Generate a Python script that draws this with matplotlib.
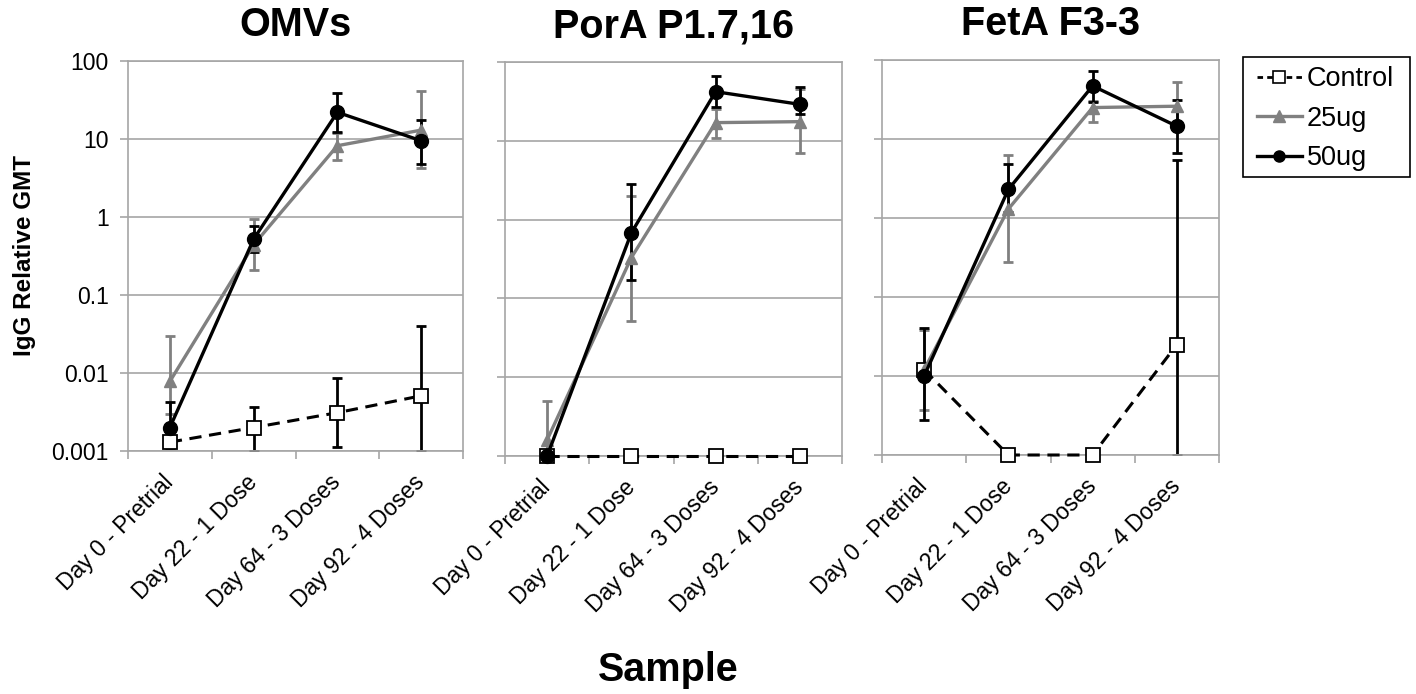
import matplotlib
matplotlib.use("Agg")
import matplotlib.pyplot as plt
from matplotlib.lines import Line2D
from matplotlib.patches import Rectangle
import numpy as np

plt.rcParams['font.family'] = ['Liberation Sans', 'DejaVu Sans']

# data
categories = ["Day 0 - Pretrial", "Day 22 - 1 Dose", "Day 64 - 3 Doses", "Day 92 - 4 Doses"]
titles = ["OMVs", "PorA P1.7,16", "FetA F3-3"]

omv_ctrl = [0.0013, 0.0020, 0.0031, 0.0051]
omv_ctrl_lo = [0.0011, 0.0010, 0.00113, 0.0010]
omv_ctrl_hi = [0.0015, 0.0037, 0.0087, 0.040]
omv_25 = [0.0078, 0.44, 8.2, 13.0]
omv_25_lo = [0.0030, 0.21, 5.4, 4.3]
omv_25_hi = [0.030, 0.94, 12.0, 41.0]
omv_50 = [0.0020, 0.52, 22.0, 9.5]
omv_50_lo = [0.0013, 0.36, 12.4, 4.8]
omv_50_hi = [0.0043, 0.77, 39.0, 17.5]

por_ctrl = [0.001, 0.001, 0.001, 0.001]
por_ctrl_lo = [0.001, 0.001, 0.001, 0.001]
por_ctrl_hi = [0.001, 0.001, 0.001, 0.001]
por_25 = [0.0016, 0.33, 17.0, 17.5]
por_25_lo = [0.0010, 0.052, 11.0, 6.9]
por_25_hi = [0.0050, 2.0, 25.0, 45.0]
por_50 = [0.001, 0.68, 42.0, 29.0]
por_50_lo = [0.001, 0.17, 27.0, 22.0]
por_50_hi = [0.001, 2.8, 67.0, 48.0]

fet_ctrl = [0.012, 0.001, 0.001, 0.025]
fet_ctrl_lo = [0.012, 0.001, 0.001, 0.001]
fet_ctrl_hi = [0.012, 0.001, 0.001, 5.5]
fet_25 = [0.012, 1.3, 25.0, 26.0]
fet_25_lo = [0.0037, 0.28, 16.5, 16.0]
fet_25_hi = [0.038, 6.2, 30.0, 52.0]
fet_50 = [0.010, 2.3, 47.0, 14.5]
fet_50_lo = [0.0028, 1.2, 29.0, 6.6]
fet_50_hi = [0.040, 4.8, 72.0, 31.0]

panels = [
    (omv_ctrl, omv_ctrl_lo, omv_ctrl_hi, omv_25, omv_25_lo, omv_25_hi, omv_50, omv_50_lo, omv_50_hi),
    (por_ctrl, por_ctrl_lo, por_ctrl_hi, por_25, por_25_lo, por_25_hi, por_50, por_50_lo, por_50_hi),
    (fet_ctrl, fet_ctrl_lo, fet_ctrl_hi, fet_25, fet_25_lo, fet_25_hi, fet_50, fet_50_lo, fet_50_hi),
]

W, H = 1416, 694
fig = plt.figure(figsize=(W / 100, H / 100), dpi=100)

# axes boxes in pixels: left, top, right, bottom
boxes = [(128, 61, 463, 451), (505, 62, 842, 456), (882, 60, 1219, 455)]
grid_c = '#a6a6a6'
grey = '#808080'
x = np.arange(len(categories))

for i, (box, data) in enumerate(zip(boxes, panels)):
    l, t, r, b = box
    ax = fig.add_axes([l / W, 1 - b / H, (r - l) / W, (b - t) / H])
    ax.set_yscale('log')
    ax.set_ylim(0.001, 100)
    ax.set_xlim(-0.5, 3.5)
    ax.yaxis.grid(True, color=grid_c, lw=1.2)
    ax.set_axisbelow(True)
    for s in ax.spines.values():
        s.set_color(grid_c)
        s.set_linewidth(1.2)
    ax.set_yticks([0.001, 0.01, 0.1, 1, 10, 100])
    ax.yaxis.set_minor_locator(matplotlib.ticker.NullLocator())
    if i == 0:
        ax.set_yticklabels(['0.001', '0.01', '0.1', '1', '10', '100'], fontsize=16.5)
    else:
        ax.set_yticklabels([])
    ax.tick_params(axis='y', length=6, width=1.2, color=grid_c, pad=8)
    ax.set_xticks([-0.5, 0.5, 1.5, 2.5, 3.5])
    ax.set_xticklabels([])
    ax.set_xticks(x, minor=True)
    ax.set_xticklabels(categories, minor=True, rotation=45, ha='right', va='center',
                       rotation_mode='anchor', fontsize=16.5)
    ax.tick_params(axis='x', which='major', length=6, width=1.2, color=grid_c)
    ax.tick_params(axis='x', which='minor', length=0, pad=20)
    ax.set_title(titles[i], fontsize=28.5, fontweight='bold', pad=18)

    c, clo, chi, a, alo, ahi, k, klo, khi = data
    # control
    ax.errorbar(x, c, yerr=[np.array(c) - np.array(clo), np.array(chi) - np.array(c)],
                fmt='none', ecolor='black', elinewidth=2, capsize=3.5, capthick=2)
    ax.plot(x, c, color='black', ls=(0, (4, 2.5)), lw=2.2, marker='s', ms=10,
            mfc='white', mec='black', mew=1.3, clip_on=False, zorder=3)
    # 25ug
    ax.errorbar(x, a, yerr=[np.array(a) - np.array(alo), np.array(ahi) - np.array(a)],
                fmt='none', ecolor=grey, elinewidth=2, capsize=3.5, capthick=2)
    ax.plot(x, a, color=grey, lw=2.4, marker='^', ms=9, mfc=grey, mec=grey,
            clip_on=False, zorder=4)
    # 50ug
    ax.errorbar(x, k, yerr=[np.array(k) - np.array(klo), np.array(khi) - np.array(k)],
                fmt='none', ecolor='black', elinewidth=2, capsize=3.5, capthick=2)
    ax.plot(x, k, color='black', lw=2.4, marker='o', ms=10, mfc='black', mec='black',
            clip_on=False, zorder=5)

fig.text(25 / W, 1 - 255 / H, 'IgG Relative GMT', rotation=90, fontsize=17.5,
         fontweight='bold', ha='center', va='center')
fig.text(668 / W, 1 - 670 / H, 'Sample', fontsize=28.5, fontweight='bold',
         ha='center', va='center')

# legend: frame drawn separately so it can be wider than the entries
fig.patches.append(Rectangle((1243 / W, 1 - 177 / H), 167 / W, 120 / H,
                             transform=fig.transFigure, fill=False,
                             edgecolor='black', lw=1.2))
handles = [
    Line2D([], [], color='black', ls=(0, (2, 1.5)), lw=2, marker='s', ms=9,
           mfc='white', mec='black', mew=1.2),
    Line2D([], [], color=grey, lw=2.4, marker='^', ms=8, mfc=grey, mec=grey),
    Line2D([], [], color='black', lw=2.4, marker='o', ms=8, mfc='black'),
]
leg = fig.legend(handles, ['Control', '25ug', '50ug'], loc='upper left',
                 bbox_to_anchor=(1257 / W, 1 - 66 / H), fontsize=19.5,
                 frameon=False, handlelength=1.65, handletextpad=0.2,
                 borderpad=0, labelspacing=0.5, borderaxespad=0)

fig.savefig('out.png', dpi=100)
